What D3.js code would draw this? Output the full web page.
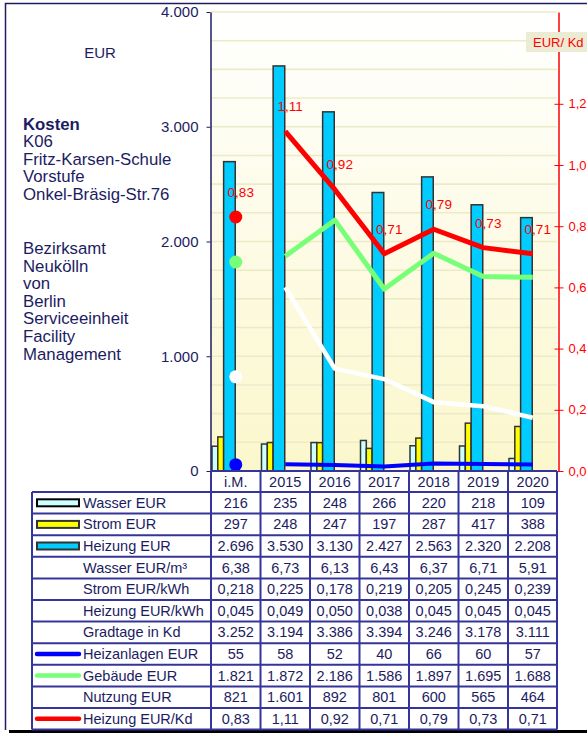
<!DOCTYPE html>
<html>
<head>
<meta charset="utf-8">
<script src="https://cdn.jsdelivr.net/npm/d3@7"></script>
<style>
  body { margin: 0; background: #fff; }
  svg { display: block; font-family: "Liberation Sans", Arial, sans-serif; }
</style>
</head>
<body>
<svg id="chart" width="587" height="733"></svg>
<script>
// categories + series
let cats        = ["i.M.", "2015", "2016", "2017", "2018", "2019", "2020"];
let wasser      = [216, 235, 248, 266, 220, 218, 109];
let strom       = [297, 248, 247, 197, 287, 417, 388];
let heizung     = [2696, 3530, 3130, 2427, 2563, 2320, 2208];
let wasserM3    = [6.38, 6.73, 6.13, 6.43, 6.37, 6.71, 5.91];
let stromKwh    = [0.218, 0.225, 0.178, 0.219, 0.205, 0.245, 0.239];
let heizKwh     = [0.045, 0.049, 0.050, 0.038, 0.045, 0.045, 0.045];
let gradtage    = [3252, 3194, 3386, 3394, 3246, 3178, 3111];
let heizanlagen = [55, 58, 52, 40, 66, 60, 57];
let gebaeude    = [1821, 1872, 2186, 1586, 1897, 1695, 1688];
let nutzung     = [821, 1601, 892, 801, 600, 565, 464];
let heizKd      = [0.83, 1.11, 0.92, 0.71, 0.79, 0.73, 0.71];

let leftTicks  = [0, 1000, 2000, 3000, 4000];
let rightTicks = [0, 0.2, 0.4, 0.6, 0.8, 1.0, 1.2];
let titleLines = ["Kosten", "K06", "Fritz-Karsen-Schule", "Vorstufe", "Onkel-Bräsig-Str.76"];
let orgLines   = ["Bezirksamt", "Neukölln", "von", "Berlin", "Serviceeinheit", "Facility", "Management"];

let rowLabels = ["Wasser EUR", "Strom EUR", "Heizung EUR", "Wasser EUR/m³", "Strom EUR/kWh",
  "Heizung EUR/kWh", "Gradtage in Kd", "Heizanlagen EUR", "Gebäude EUR", "Nutzung EUR", "Heizung EUR/Kd"];
let rowValues = [wasser, strom, heizung, wasserM3, stromKwh, heizKwh, gradtage, heizanlagen, gebaeude, nutzung, heizKd];
let rowFormats = [",d", ",d", ",d", ",.2f", ",.3f", ",.3f", ",d", ",d", ",d", ",d", ",.2f"];

let de = d3.formatLocale({decimal: ",", thousands: ".", grouping: [3], currency: ["", " €"]});
let navy = "#1c1c62";
let border = "#34349a";

let svg = d3.select("#chart");

let x  = d3.scaleBand().domain(cats).range([211, 557.5]);
let bw = x.bandwidth();
let y  = d3.scaleLinear().domain([0, 4000]).range([471, 12]);
let yR = d3.scaleLinear().domain([0, 1.5]).range([471, 12]);
// slot scale inside a category: wasser 1 unit, strom 1 unit, heizung 2 units
let slot = d3.scaleLinear().domain([0, 4]).range([1, bw / 2 - 0.5]);

// frame
svg.append("path").attr("d", "M5.5,730 V3.5 H590").attr("fill", "none").attr("stroke", navy).attr("stroke-width", 1.5);
svg.append("line").attr("x1", 9).attr("x2", 587).attr("y1", 731.5).attr("y2", 731.5).attr("stroke", "#000").attr("stroke-width", 3);

// plot background
let grad = svg.append("defs").append("linearGradient").attr("id", "bg").attr("x1", 0).attr("x2", 0).attr("y1", 0).attr("y2", 1);
grad.append("stop").attr("offset", "0%").attr("stop-color", "#ffffff");
grad.append("stop").attr("offset", "100%").attr("stop-color", "#fbf7cc");
svg.append("rect").attr("x", 211).attr("y", y(4000)).attr("width", 557 - 211).attr("height", y(0) - y(4000)).attr("fill", "url(#bg)");

svg.append("g").selectAll("line").data(d3.range(250, 4001, 250)).join("line")
  .attr("x1", 211).attr("x2", 557)
  .attr("y1", d => y(d)).attr("y2", d => y(d))
  .attr("stroke", "#ecebc8").attr("stroke-width", 1.6);

// bars
let barG = svg.append("g").attr("stroke", "#333").attr("stroke-width", 1.5);
function bars(vals, fill, s0, s1) {
  barG.append("g").selectAll("rect").data(vals).join("rect")
    .attr("x", (d, i) => x(cats[i]) + slot(s0))
    .attr("width", slot(s1) - slot(s0))
    .attr("y", d => y(d))
    .attr("height", d => y(0) - y(d))
    .attr("fill", fill);
}
bars(wasser, "#ccffff", 0, 1);
bars(strom, "#ffff00", 1, 2);
bars(heizung, "#00ccff", 2, 4);

// lines (years only) + dots for i.M.
function series(vals, scale, color, width) {
  let pts = vals.map((d, i) => [x(cats[i]) + bw / 2, scale(d)]);
  svg.append("path")
    .attr("fill", "none")
    .attr("stroke", color)
    .attr("stroke-width", width)
    .attr("stroke-linejoin", "round")
    .attr("d", d3.line()(pts.slice(1)));
  svg.append("circle").attr("cx", pts[0][0]).attr("cy", pts[0][1]).attr("r", 6.5).attr("fill", color);
  return pts;
}
series(nutzung, y, "#ffffff", 4.5);
series(heizanlagen, y, "#0000ff", 4);
series(gebaeude, y, "#77ff77", 5);
let redPts = series(heizKd, yR, "#ff0000", 5);

svg.append("g").selectAll("text").data(heizKd).join("text")
  .attr("x", (d, i) => redPts[i][0] + 5)
  .attr("y", (d, i) => redPts[i][1] - 20)
  .attr("text-anchor", "middle")
  .attr("font-size", 13.5)
  .attr("fill", "#ff0000")
  .text(d => de.format(",.2f")(d));

// left axis
let axL = svg.append("g").attr("transform", "translate(210.5,0)")
  .call(d3.axisLeft(y).tickValues(leftTicks).tickFormat(de.format(",d")).tickSize(4).tickSizeOuter(0));
axL.select(".domain").attr("stroke", navy).attr("stroke-width", 1.5);
axL.selectAll(".tick line").attr("stroke", navy);
axL.selectAll(".tick text").attr("fill", navy).attr("font-size", 15).attr("font-family", null).attr("x", -12);

// right axis
let axR = svg.append("g").attr("transform", "translate(558.5,0)")
  .call(d3.axisRight(yR).tickValues(rightTicks).tickFormat(de.format(",.1f")).tickSize(5).tickSizeOuter(0));
axR.select(".domain").attr("stroke", "#ff0000").attr("stroke-width", 1.5);
axR.selectAll(".tick line").attr("stroke", "#ff0000").attr("x1", -4);
axR.selectAll(".tick text").attr("fill", "#ff0000").attr("font-size", 13).attr("font-family", null).attr("x", 10);

// unit labels
svg.append("text").attr("x", 100).attr("y", 58).attr("text-anchor", "middle")
  .attr("font-size", 15).attr("fill", navy).text("EUR");
svg.append("rect").attr("x", 526).attr("y", 32).attr("width", 70).attr("height", 20).attr("fill", "#ececd4");
svg.append("text").attr("x", 533).attr("y", 47).attr("font-size", 13).attr("fill", "#ff0000").text("EUR/ Kd");

// left text blocks
svg.append("g").selectAll("text").data(titleLines).join("text")
  .attr("x", 23).attr("y", (d, i) => 130 + i * 17.4)
  .attr("font-size", 16.8).attr("fill", navy)
  .attr("font-weight", (d, i) => i === 0 ? "bold" : null)
  .text(d => d);
svg.append("g").selectAll("text").data(orgLines).join("text")
  .attr("x", 23).attr("y", (d, i) => 254 + i * 17.6)
  .attr("font-size", 16.8).attr("fill", navy)
  .text(d => d);

// table
let tTop = 492, rowH = 21.6, tLeft = 32, tRight = 557;
let tBottom = tTop + rowH * rowLabels.length;
let tg = svg.append("g");

tg.append("g").selectAll("text").data(cats).join("text")
  .attr("x", d => x(d) + bw / 2).attr("y", 487)
  .attr("text-anchor", "middle").attr("font-size", 14.5).attr("fill", navy)
  .text(d => d);

rowLabels.forEach((lab, r) => {
  let cy = tTop + rowH * r + rowH / 2;
  tg.append("text").attr("x", 83).attr("y", cy + 5).attr("font-size", 14.5).attr("fill", navy).text(lab);
  tg.append("g").selectAll("text").data(rowValues[r]).join("text")
    .attr("x", (d, i) => x(cats[i]) + bw / 2).attr("y", cy + 5)
    .attr("text-anchor", "middle").attr("font-size", 14.5).attr("fill", navy)
    .text(d => de.format(rowFormats[r])(d));
});

// legend keys in the table
let keyRects = [["#ccffff", "#000"], ["#ffff00", "#333"], ["#00ccff", "#333"]];
keyRects.forEach((k, r) => {
  let cy = tTop + rowH * r + rowH / 2;
  tg.append("rect").attr("x", 37).attr("y", cy - 3.5).attr("width", 42).attr("height", 7)
    .attr("fill", k[0]).attr("stroke", k[1]).attr("stroke-width", 2);
});
let keyLines = [[7, "#0000ff"], [8, "#77ff77"], [10, "#ff0000"]];
keyLines.forEach(k => {
  let cy = tTop + rowH * k[0] + rowH / 2;
  tg.append("line").attr("x1", 37).attr("x2", 79).attr("y1", cy).attr("y2", cy)
    .attr("stroke", k[1]).attr("stroke-width", 4.5).attr("stroke-linecap", "round");
});

// grid of the table
let gl = tg.append("g").attr("stroke", border).attr("stroke-width", 2).attr("fill", "none");
d3.range(rowLabels.length + 1).forEach(r => {
  gl.append("line").attr("x1", tLeft).attr("x2", tRight).attr("y1", tTop + rowH * r).attr("y2", tTop + rowH * r);
});
gl.append("line").attr("x1", tLeft).attr("x2", tLeft).attr("y1", tTop).attr("y2", tBottom);
cats.concat([null]).forEach((c, i) => {
  let xx = c ? x(c) : tRight;
  gl.append("line").attr("x1", xx).attr("x2", xx).attr("y1", y(0)).attr("y2", tBottom);
});
gl.append("line").attr("x1", 211).attr("x2", tRight).attr("y1", y(0)).attr("y2", y(0));
</script>
</body>
</html>
